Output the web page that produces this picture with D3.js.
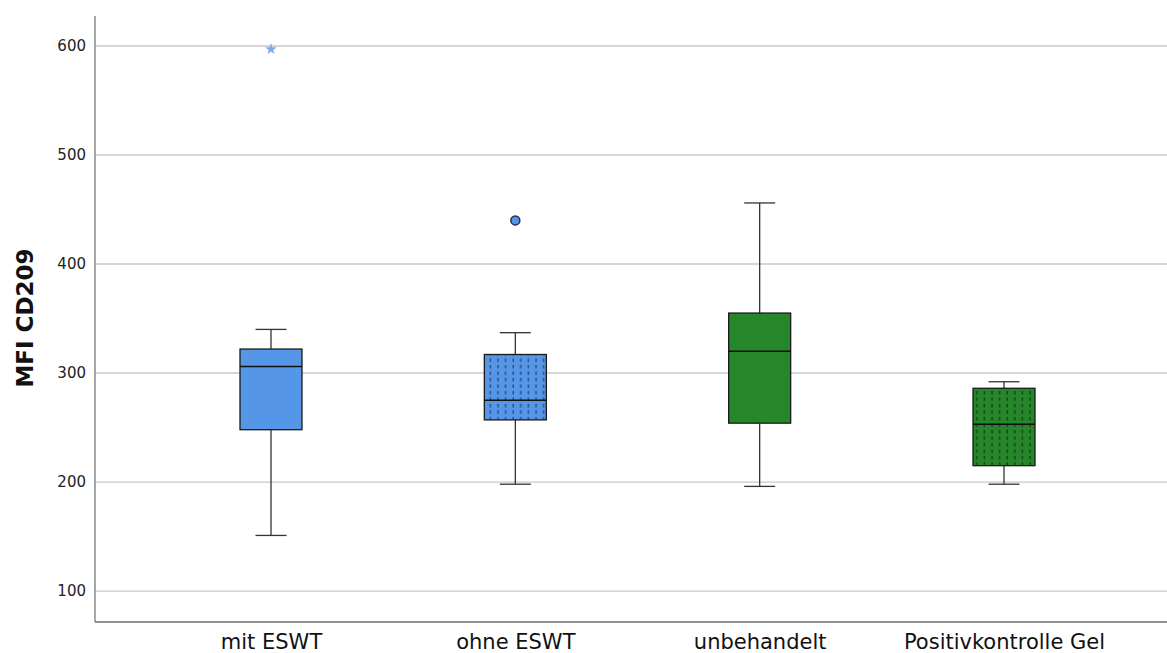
<!DOCTYPE html>
<html>
<head>
<meta charset="utf-8">
<script src="https://cdn.jsdelivr.net/npm/d3@7"></script>
<style>
  body { margin: 0; background: #fff; }
  text { font-family: "DejaVu Sans", "Open Sans", sans-serif; }
</style>
</head>
<body>
<svg id="chart" width="1167" height="653"></svg>
<script>
'use strict';

// data
const groups = ['mit ESWT', 'ohne ESWT', 'unbehandelt', 'Positivkontrolle Gel'];
const whiskerLow = [151, 198, 196, 198];
const q1 = [248, 257, 254, 215];
const median = [306, 275, 320, 253];
const q3 = [322, 317, 355, 286];
const whiskerHigh = [340, 337, 456, 292];
const fills = ['#5596e6', '#5596e6', '#26862a', '#26862a'];
const dotted = [false, true, false, true];
// outliers: [group index, value, kind]
const outliers = [[0, 597, 'star'], [1, 440, 'circle']];
const yTicks = [100, 200, 300, 400, 500, 600];

const svg = d3.select('#chart');
const plotLeft = 95, plotTop = 16, plotBottom = 622, plotRight = 1167;

const y = d3.scaleLinear().domain([71.6, 627.5]).range([plotBottom, plotTop]);
const x = d3.scalePoint().domain(groups).range([271, 1004]);
const boxW = 62, capW = 31;

// patterns for dotted boxes (short vertical dashes)
const defs = svg.append('defs');
function addPattern(id, bg, fg) {
  const p = defs.append('pattern')
    .attr('id', id)
    .attr('patternUnits', 'userSpaceOnUse')
    .attr('width', 7.6).attr('height', 6.5);
  p.append('rect').attr('width', 7.6).attr('height', 6.5).attr('fill', bg);
  p.append('line')
    .attr('x1', 4).attr('x2', 4).attr('y1', 1).attr('y2', 4.5)
    .attr('stroke', fg).attr('stroke-width', 1.2);
}
addPattern('dotBlue', '#5596e6', '#1f3f7a');
addPattern('dotGreen', '#26862a', '#0c3a0e');

// gridlines
svg.append('g')
  .selectAll('line')
  .data(yTicks)
  .join('line')
  .attr('x1', plotLeft).attr('x2', plotRight)
  .attr('y1', d => y(d)).attr('y2', d => y(d))
  .attr('stroke', '#c8c8c8').attr('stroke-width', 1.3);

// y axis
const yAxis = svg.append('g')
  .attr('transform', 'translate(' + plotLeft + ',0)')
  .call(d3.axisLeft(y).tickValues(yTicks).tickSize(0).tickPadding(9));
yAxis.select('.domain').remove();
yAxis.selectAll('text')
  .attr('font-size', 15).attr('fill', '#222')
  .style('font-family', '"DejaVu Sans", sans-serif');

// axis lines
svg.append('line')
  .attr('x1', plotLeft).attr('x2', plotLeft).attr('y1', plotTop).attr('y2', plotBottom)
  .attr('stroke', '#8a8a8a').attr('stroke-width', 1.5);
svg.append('line')
  .attr('x1', plotLeft).attr('x2', plotRight).attr('y1', plotBottom).attr('y2', plotBottom)
  .attr('stroke', '#6e6e6e').attr('stroke-width', 1.5);

// x labels
const xAxis = svg.append('g')
  .attr('transform', 'translate(0,' + plotBottom + ')')
  .call(d3.axisBottom(x).tickSize(0));
xAxis.select('.domain').remove();
xAxis.selectAll('text')
  .attr('y', 27).attr('dy', 0)
  .attr('font-size', 21).attr('fill', '#111')
  .style('font-family', '"DejaVu Sans", sans-serif');

// y title
svg.append('text')
  .attr('transform', 'translate(33,' + 318 + ') rotate(-90)')
  .attr('text-anchor', 'middle')
  .attr('font-size', 23).attr('font-weight', 'bold').attr('fill', '#111')
  .text('MFI CD209');

// boxes
const boxes = svg.append('g')
  .selectAll('g')
  .data(groups)
  .join('g');

boxes.each(function(g, i) {
  const gEl = d3.select(this), cx = x(g);
  // whiskers
  gEl.append('line')
    .attr('x1', cx).attr('x2', cx)
    .attr('y1', y(whiskerHigh[i])).attr('y2', y(q3[i]))
    .attr('stroke', '#333').attr('stroke-width', 1.3);
  gEl.append('line')
    .attr('x1', cx).attr('x2', cx)
    .attr('y1', y(q1[i])).attr('y2', y(whiskerLow[i]))
    .attr('stroke', '#333').attr('stroke-width', 1.3);
  [whiskerHigh[i], whiskerLow[i]].forEach(v => {
    gEl.append('line')
      .attr('x1', cx - capW / 2).attr('x2', cx + capW / 2)
      .attr('y1', y(v)).attr('y2', y(v))
      .attr('stroke', '#333').attr('stroke-width', 1.3);
  });
  // box
  const fill = dotted[i] ? (i < 2 ? 'url(#dotBlue)' : 'url(#dotGreen)') : fills[i];
  gEl.append('rect')
    .attr('x', cx - boxW / 2).attr('width', boxW)
    .attr('y', y(q3[i])).attr('height', y(q1[i]) - y(q3[i]))
    .attr('fill', fill)
    .attr('stroke', '#1a1a1a').attr('stroke-width', 1.3);
  // median
  gEl.append('line')
    .attr('x1', cx - boxW / 2).attr('x2', cx + boxW / 2)
    .attr('y1', y(median[i])).attr('y2', y(median[i]))
    .attr('stroke', '#111').attr('stroke-width', 1.6);
});

// outliers
outliers.forEach(([gi, v, kind]) => {
  const cx = x(groups[gi]);
  if (kind === 'star') {
    svg.append('path')
      .attr('d', d3.symbol(d3.symbolStar, 34)())
      .attr('transform', 'translate(' + cx + ',' + y(v) + ')')
      .attr('fill', '#7aaaea').attr('stroke', '#7aaaea').attr('stroke-width', 0.4);
  } else {
    svg.append('circle')
      .attr('cx', cx).attr('cy', y(v)).attr('r', 4.5)
      .attr('fill', '#5596e6').attr('stroke', '#1f2f55').attr('stroke-width', 1.5);
  }
});
</script>
</body>
</html>
